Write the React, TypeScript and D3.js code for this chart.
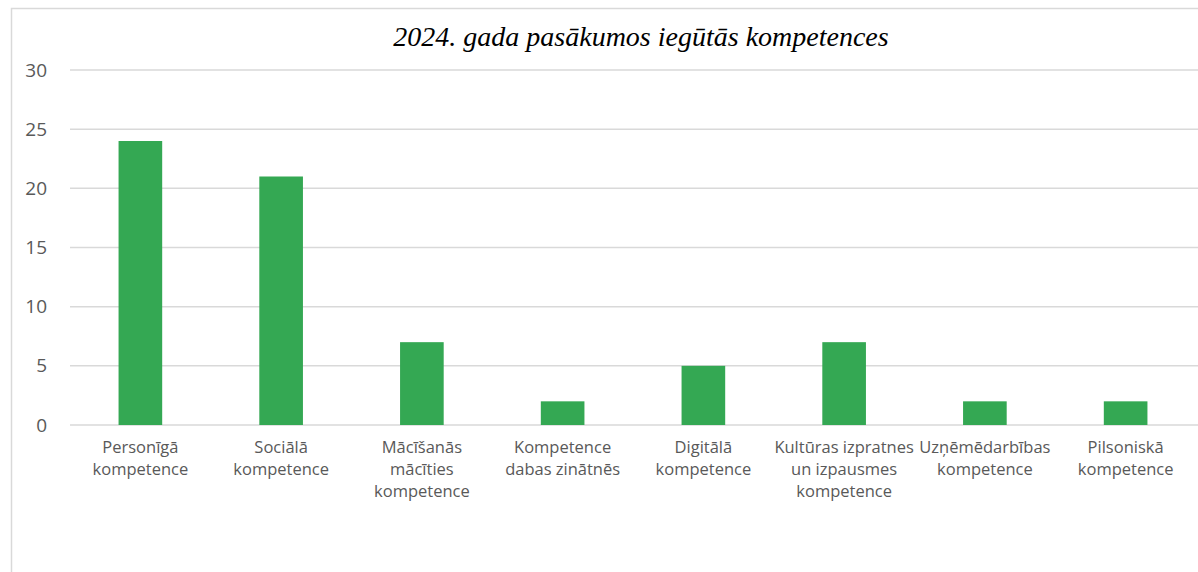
import React, { useEffect } from 'react'
import * as d3 from 'd3'

const WIDTH = 1198
const HEIGHT = 572
const margin = { top: 70, right: 2, bottom: 147, left: 70 }

const categories = [
    ['Personīgā', 'kompetence'],
    ['Sociālā', 'kompetence'],
    ['Mācīšanās', 'mācīties', 'kompetence'],
    ['Kompetence', 'dabas zinātnēs'],
    ['Digitālā', 'kompetence'],
    ['Kultūras izpratnes', 'un izpausmes', 'kompetence'],
    ['Uzņēmēdarbības', 'kompetence'],
    ['Pilsoniskā', 'kompetence'],
]
const values = [24, 21, 7, 2, 5, 7, 2, 2]
const yTicks = [0, 5, 10, 15, 20, 25, 30]
const title = '2024. gada pasākumos iegūtās kompetences'

const App = () => {
    useEffect(() => {
        document.body.style.margin = '0'
    }, [])

    const chartWidth = WIDTH - margin.left - margin.right
    const keys = categories.map(c => c.join(' '))
    const xScale = d3.scaleBand()
        .domain(keys)
        .range([margin.left, margin.left + chartWidth])
        .paddingInner(0.69)
        .paddingOuter(0.345)
    const bw = xScale.bandwidth()

    const yScale = d3.scaleLinear().domain([0, 30]).range([425, 70])

    return (
        <svg width={WIDTH} height={HEIGHT} style={{ display: 'block', background: '#fff' }}>
            {/* frame */}
            <rect x={11.5} y={8.5} width={WIDTH} height={HEIGHT} fill="none" stroke="#d9d9d9" strokeWidth={1.5} />

            <text x={641} y={46} textAnchor="middle" fontFamily="'Liberation Serif', serif"
                fontStyle="italic" fontSize={28} fill="#000">{title}</text>

            {/* grid + y labels */}
            {yTicks.map(t => (
                <g key={t}>
                    <line x1={margin.left} x2={WIDTH} y1={yScale(t)} y2={yScale(t)}
                        stroke="#d9d9d9" strokeWidth={1.5} />
                    <text x={47} y={yScale(t)} dy="0.35em" textAnchor="end"
                        fontFamily="'Open Sans', sans-serif" fontSize={19} fill="#595959">{t}</text>
                </g>
            ))}

            {/* bars */}
            {values.map((v, i) => (
                <rect key={i} x={xScale(keys[i])} y={yScale(v)} width={bw}
                    height={yScale(0) - yScale(v)} fill="#34A853" />
            ))}

            {/* x labels */}
            {categories.map((lines, i) => (
                <text key={i} textAnchor="middle" fontFamily="'Open Sans', sans-serif"
                    fontSize={16.5} fill="#595959">
                    {lines.map((l, j) => (
                        <tspan key={j} x={xScale(keys[i]) + bw / 2} y={453 + j * 22}>{l}</tspan>
                    ))}
                </text>
            ))}
        </svg>
    )
}

export default App
